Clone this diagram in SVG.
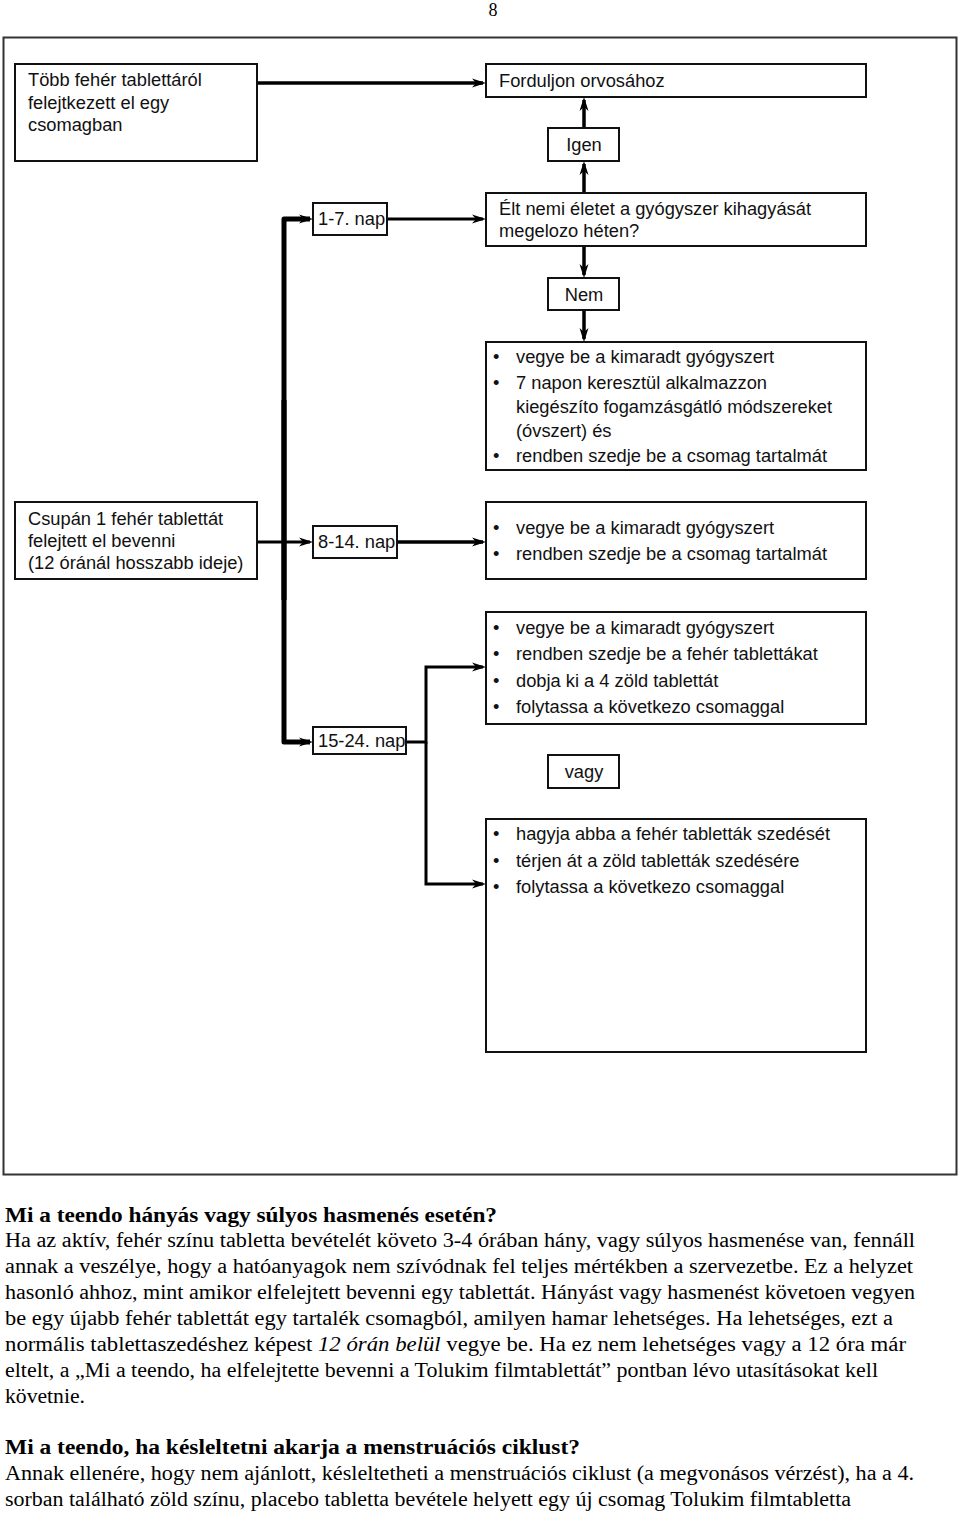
<svg xmlns="http://www.w3.org/2000/svg" width="960" height="1514" viewBox="0 0 960 1514">
<defs>
<marker id="ar" viewBox="0 -5 14 10" markerWidth="14" markerHeight="10" refX="11" refY="0" orient="auto" markerUnits="userSpaceOnUse">
<path d="M0,-4.5 L14,0 L0,4.5 L4,0 z" fill="#000"/>
</marker>
</defs>
<style>
.bx{fill:#fff;stroke:#111;stroke-width:2}
.t{font-family:"Liberation Sans",Arial,sans-serif;font-size:18.3px;fill:#111}
.c{text-anchor:middle}
.ln{fill:none;stroke:#000;stroke-width:3.5;marker-end:url(#ar)}
.thick{fill:none;stroke:#000;stroke-width:5;stroke-linejoin:round;marker-end:url(#ar)}
.p{font-family:"Liberation Serif","Times New Roman",serif;font-size:20px;fill:#000}
.h{font-weight:bold}
</style>
<rect width="960" height="1514" fill="#fff"/>
<text class="p c" x="493" y="16" style="font-size:18px">8</text>
<rect x="3.5" y="37.5" width="953" height="1137" fill="none" stroke="#333" stroke-width="2"/>

<g id="connectors">
<path class="ln" d="M257,83 H483"/>
<path class="ln" d="M584,128 V100"/>
<path class="ln" d="M584,193 V164"/>
<path class="ln" d="M584,246 V275"/>
<path class="ln" d="M584,310 V339"/>
<path class="thick" d="M284,600 V219 H310"/>
<path class="thick" d="M284,400 V742 H310"/>
<path class="ln" d="M387,219 H483" style="stroke-width:3"/>
<path class="ln" d="M257,542 H310" style="stroke-width:3"/>
<path class="ln" d="M397,542 H483"/>
<path class="ln" d="M406,742 H426 V667 H483" style="stroke-width:3"/>
<path class="ln" d="M426,742 V884 H483" style="stroke-width:3"/>
</g>

<g id="nodeA">
<rect class="bx" x="15" y="64" width="242" height="97"/>
<text class="t" x="28" y="86">Több fehér tablettáról</text>
<text class="t" x="28" y="109">felejtkezett el egy</text>
<text class="t" x="28" y="131">csomagban</text>
</g>
<g id="nodeForduljon">
<rect class="bx" x="486" y="64" width="380" height="33"/>
<text class="t" x="499" y="87">Forduljon orvosához</text>
</g>
<g id="nodeIgen">
<rect class="bx" x="548" y="128" width="71" height="33"/>
<text class="t c" x="584" y="151">Igen</text>
</g>
<g id="node17">
<rect class="bx" x="313" y="203" width="74" height="32"/>
<text class="t" x="318" y="225">1-7. nap</text>
</g>
<g id="nodeElt">
<rect class="bx" x="486" y="193" width="380" height="53"/>
<text class="t" x="499" y="215">Élt nemi életet a gyógyszer kihagyását</text>
<text class="t" x="499" y="237">megelozo héten?</text>
</g>
<g id="nodeNem">
<rect class="bx" x="548" y="278" width="71" height="32"/>
<text class="t c" x="584" y="301">Nem</text>
</g>
<g id="nodeC">
<rect class="bx" x="486" y="342" width="380" height="128"/>
<text class="t" x="493" y="363">•</text><text class="t" x="516" y="363">vegye be a kimaradt gyógyszert</text>
<text class="t" x="493" y="389">•</text><text class="t" x="516" y="389">7 napon keresztül alkalmazzon</text>
<text class="t" x="516" y="413">kiegészíto fogamzásgátló módszereket</text>
<text class="t" x="516" y="437">(óvszert) és</text>
<text class="t" x="493" y="462">•</text><text class="t" x="516" y="462">rendben szedje be a csomag tartalmát</text>
</g>
<g id="nodeCsupan">
<rect class="bx" x="15" y="502" width="242" height="77"/>
<text class="t" x="28" y="525">Csupán 1 fehér tablettát</text>
<text class="t" x="28" y="547">felejtett el bevenni</text>
<text class="t" x="28" y="569">(12 óránál hosszabb ideje)</text>
</g>
<g id="node814">
<rect class="bx" x="313" y="526" width="84" height="32"/>
<text class="t" x="318" y="548">8-14. nap</text>
</g>
<g id="nodeD">
<rect class="bx" x="486" y="502" width="380" height="77"/>
<text class="t" x="493" y="534">•</text><text class="t" x="516" y="534">vegye be a kimaradt gyógyszert</text>
<text class="t" x="493" y="560">•</text><text class="t" x="516" y="560">rendben szedje be a csomag tartalmát</text>
</g>
<g id="node1524">
<rect class="bx" x="313" y="727" width="93" height="27"/>
<text class="t" x="318" y="747">15-24. nap</text>
</g>
<g id="nodeE">
<rect class="bx" x="486" y="612" width="380" height="112"/>
<text class="t" x="493" y="634">•</text><text class="t" x="516" y="634">vegye be a kimaradt gyógyszert</text>
<text class="t" x="493" y="660">•</text><text class="t" x="516" y="660">rendben szedje be a fehér tablettákat</text>
<text class="t" x="493" y="687">•</text><text class="t" x="516" y="687">dobja ki a 4 zöld tablettát</text>
<text class="t" x="493" y="713">•</text><text class="t" x="516" y="713">folytassa a következo csomaggal</text>
</g>
<g id="nodeVagy">
<rect class="bx" x="548" y="755" width="71" height="33"/>
<text class="t c" x="584" y="778">vagy</text>
</g>
<g id="nodeF">
<rect class="bx" x="486" y="819" width="380" height="233"/>
<text class="t" x="493" y="840">•</text><text class="t" x="516" y="840">hagyja abba a fehér tabletták szedését</text>
<text class="t" x="493" y="867">•</text><text class="t" x="516" y="867">térjen át a zöld tabletták szedésére</text>
<text class="t" x="493" y="893">•</text><text class="t" x="516" y="893">folytassa a következo csomaggal</text>
</g>

<g id="bodytext">
<text class="p h" x="5" y="1222" textLength="492" lengthAdjust="spacingAndGlyphs">Mi a teendo hányás vagy súlyos hasmenés esetén?</text>
<text class="p" x="5" y="1247" textLength="910" lengthAdjust="spacingAndGlyphs">Ha az aktív, fehér színu tabletta bevételét követo 3-4 órában hány, vagy súlyos hasmenése van, fennáll</text>
<text class="p" x="5" y="1273" textLength="908" lengthAdjust="spacingAndGlyphs">annak a veszélye, hogy a hatóanyagok nem szívódnak fel teljes mértékben a szervezetbe. Ez a helyzet</text>
<text class="p" x="5" y="1299" textLength="910" lengthAdjust="spacingAndGlyphs">hasonló ahhoz, mint amikor elfelejtett bevenni egy tablettát. Hányást vagy hasmenést követoen vegyen</text>
<text class="p" x="5" y="1325" textLength="888" lengthAdjust="spacingAndGlyphs">be egy újabb fehér tablettát egy tartalék csomagból, amilyen hamar lehetséges. Ha lehetséges, ezt a</text>
<text class="p" x="5" y="1351" textLength="901" lengthAdjust="spacingAndGlyphs">normális tablettaszedéshez képest <tspan font-style="italic">12 órán belül</tspan> vegye be. Ha ez nem lehetséges vagy a 12 óra már</text>
<text class="p" x="5" y="1377" textLength="873" lengthAdjust="spacingAndGlyphs">eltelt, a „Mi a teendo, ha elfelejtette bevenni a Tolukim filmtablettát” pontban lévo utasításokat kell</text>
<text class="p" x="5" y="1403" textLength="80" lengthAdjust="spacingAndGlyphs">követnie.</text>
<text class="p h" x="5" y="1454" textLength="575" lengthAdjust="spacingAndGlyphs">Mi a teendo, ha késleltetni akarja a menstruációs ciklust?</text>
<text class="p" x="5" y="1480" textLength="909" lengthAdjust="spacingAndGlyphs">Annak ellenére, hogy nem ajánlott, késleltetheti a menstruációs ciklust (a megvonásos vérzést), ha a 4.</text>
<text class="p" x="5" y="1506" textLength="846" lengthAdjust="spacingAndGlyphs">sorban található zöld színu, placebo tabletta bevétele helyett egy új csomag Tolukim filmtabletta</text>
</g>
</svg>
